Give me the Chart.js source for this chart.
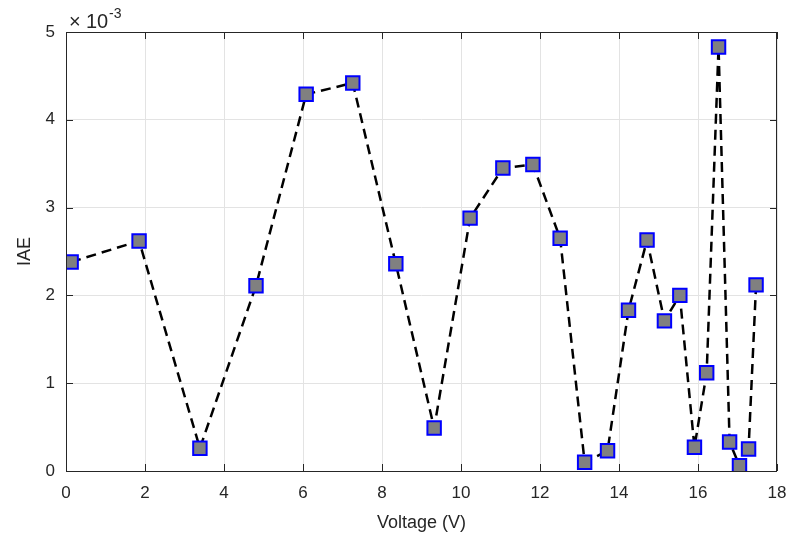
<!DOCTYPE html>
<html>
<head>
<meta charset="utf-8">
<script src="https://cdn.jsdelivr.net/npm/chart.js@4"></script>
<style>
  html, body { margin: 0; padding: 0; background: #fff; }
  #wrap { width: 789px; height: 538px; }
</style>
</head>
<body>
<div id="wrap"><canvas id="iaeChart" width="789" height="538"></canvas></div>
<script>
// voltage (V) and IAE values (in units of 1e-3)
const voltage = [0.13, 1.85, 3.39, 4.81, 6.08, 7.26, 8.35, 9.32, 10.23, 11.06, 11.82, 12.51,
                 13.13, 13.71, 14.24, 14.71, 15.15, 15.54, 15.91, 16.22, 16.52, 16.80, 17.05, 17.28, 17.47];
const iae = [2.38, 2.62, 0.26, 2.11, 4.29, 4.42, 2.36, 0.49, 2.88, 3.45, 3.49, 2.65,
             0.10, 0.23, 1.83, 2.63, 1.71, 2.00, 0.27, 1.12, 4.83, 0.33, 0.06, 0.25, 2.12];
const xTicks = [0, 2, 4, 6, 8, 10, 12, 14, 16, 18];
const yTicks = [0, 1, 2, 3, 4, 5];

const fontFamily = "'Liberation Sans', Arial, sans-serif";
const axisColor = '#262626';

// box, inward ticks and the x10^-3 exponent label (matlab style)
const boxPlugin = {
    id: 'matlabBox',
    afterDraw(chart) {
        const { ctx, chartArea: a, scales } = chart;
        ctx.save();
        ctx.strokeStyle = axisColor;
        ctx.lineWidth = 1;
        ctx.strokeRect(a.left + 0.5, a.top + 0.5, a.right - a.left - 1, a.bottom - a.top);

        ctx.beginPath();
        xTicks.forEach(v => {
            const x = Math.round(scales.x.getPixelForValue(v)) + 0.5;
            ctx.moveTo(x, a.bottom); ctx.lineTo(x, a.bottom - 7);
            ctx.moveTo(x, a.top); ctx.lineTo(x, a.top + 7);
        });
        yTicks.forEach(v => {
            const y = Math.round(scales.y.getPixelForValue(v)) + 0.5;
            ctx.moveTo(a.left, y); ctx.lineTo(a.left + 7, y);
            ctx.moveTo(a.right, y); ctx.lineTo(a.right - 7, y);
        });
        ctx.stroke();

        ctx.fillStyle = axisColor;
        ctx.textBaseline = 'alphabetic';
        ctx.textAlign = 'left';
        ctx.font = '20px ' + fontFamily;
        ctx.fillText('\u00d7', a.left + 3, a.top - 4);
        ctx.fillText('10', a.left + 20, a.top - 4);
        ctx.font = '14px ' + fontFamily;
        ctx.fillText('-3', a.left + 43, a.top - 14);
        ctx.restore();
    }
};

new Chart(document.getElementById('iaeChart').getContext('2d'), {
    type: 'line',
    data: {
        datasets: [{
            label: 'IAE',
            data: voltage.map((v, i) => ({ x: v, y: iae[i] })),
            borderColor: '#000000',
            borderWidth: 2.5,
            borderDash: [10, 6],
            tension: 0,
            fill: false,
            pointStyle: 'rect',
            pointRadius: 9.5,
            pointHoverRadius: 9.5,
            pointBackgroundColor: '#808080',
            pointBorderColor: '#0000ff',
            pointBorderWidth: 2
        }]
    },
    options: {
        responsive: false,
        animation: false,
        layout: { padding: { top: 32, right: 12, left: 0, bottom: 0 } },
        plugins: {
            legend: { display: false },
            tooltip: { enabled: false }
        },
        scales: {
            x: {
                type: 'linear',
                min: 0,
                max: 18,
                afterFit: s => { s.height = 67; s.paddingLeft = 0; s.paddingRight = 0; },
                afterBuildTicks: s => { s.ticks = xTicks.map(v => ({ value: v })); },
                grid: { color: '#e3e3e3', drawTicks: false },
                border: { display: false },
                ticks: {
                    padding: 12,
                    color: axisColor,
                    font: { family: fontFamily, size: 17 }
                },
                title: {
                    display: true,
                    text: 'Voltage (V)',
                    color: axisColor,
                    padding: { top: 6 },
                    font: { family: fontFamily, size: 18 }
                }
            },
            y: {
                min: 0,
                max: 5,
                afterFit: s => { s.width = 66; s.paddingTop = 0; s.paddingBottom = 0; },
                afterBuildTicks: s => { s.ticks = yTicks.map(v => ({ value: v })); },
                grid: { color: '#e3e3e3', drawTicks: false },
                border: { display: false },
                ticks: {
                    padding: 11,
                    color: axisColor,
                    font: { family: fontFamily, size: 17 }
                },
                title: {
                    display: true,
                    text: 'IAE',
                    color: axisColor,
                    padding: { top: 14, bottom: 4 },
                    font: { family: fontFamily, size: 18 }
                }
            }
        }
    },
    plugins: [boxPlugin]
});
</script>
</body>
</html>
